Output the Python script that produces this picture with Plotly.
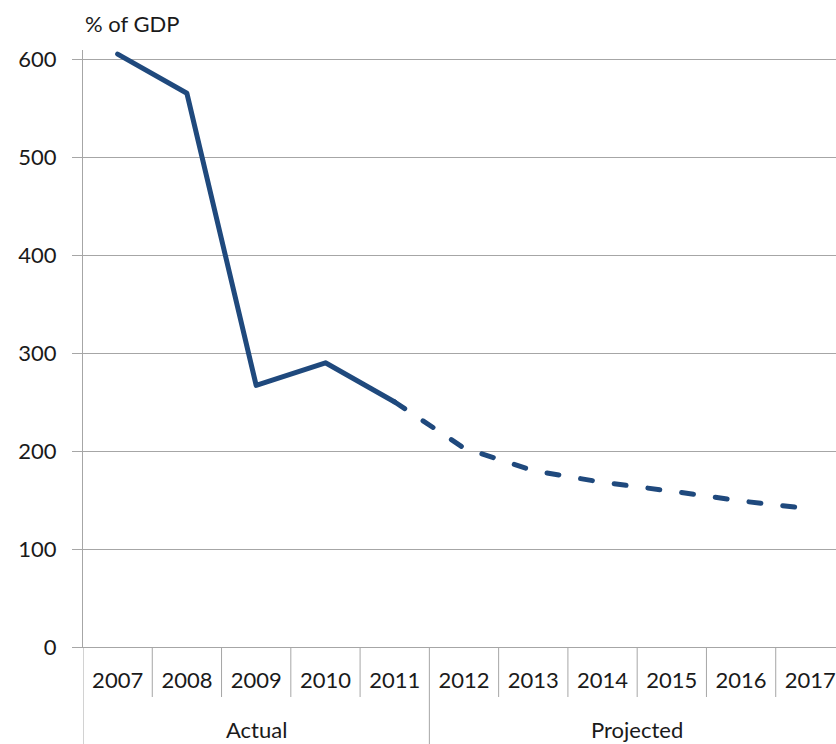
import plotly.graph_objects as go

years = ["2007", "2008", "2009", "2010", "2011", "2012", "2013", "2014", "2015", "2016", "2017"]
values = [605, 565, 267, 290, 250, 203, 180, 168, 159, 149, 141]
n_actual = 5  # 2007-2011 actual
group_labels = ["Actual", "Projected"]
y_ticks = [0, 100, 200, 300, 400, 500, 600]

LINE = "#1F497D"
GRID = "#A6A6A6"
TXT = "#1a1a1a"
FONT = "Lato"

fig = go.Figure()
fig.add_trace(go.Scatter(x=years[:n_actual], y=values[:n_actual], mode="lines",
                         line=dict(color=LINE, width=5), hoverinfo="skip", showlegend=False))
fig.add_trace(go.Scatter(x=years[n_actual - 1:], y=values[n_actual - 1:], mode="lines",
                         line=dict(color=LINE, width=5, dash="12px,22px"), hoverinfo="skip", showlegend=False))

plot_h = 744 - 50 - 97
def py(pix):
    return -(pix - 647) / plot_h

shapes = []
# inner category separators
for i in range(len(years) - 1):
    xpos = i + 0.5
    bottom = 744 if i == n_actual - 1 else 697
    shapes.append(dict(type="line", xref="x", yref="paper", x0=xpos, x1=xpos,
                       y0=0, y1=py(bottom), line=dict(color=GRID, width=1)))
# left axis extension
shapes.append(dict(type="line", xref="x", yref="paper", x0=-0.5, x1=-0.5,
                   y0=0, y1=py(744), line=dict(color=GRID, width=1)))

annotations = [
    dict(text="% of GDP", xref="paper", yref="paper", x=0, y=1 + (50 - 24) / plot_h,
         xanchor="left", yanchor="middle", showarrow=False, font=dict(size=22, color=TXT, family=FONT)),
    dict(text=group_labels[0], xref="x", yref="paper", x=(n_actual - 1) / 2, y=py(729),
         xanchor="center", yanchor="middle", showarrow=False, font=dict(size=22, color=TXT, family=FONT)),
    dict(text=group_labels[1], xref="x", yref="paper", x=(n_actual - 0.5 + len(years) - 0.5) / 2, y=py(729),
         xanchor="center", yanchor="middle", showarrow=False, font=dict(size=22, color=TXT, family=FONT)),
]

fig.update_layout(
    width=836, height=744,
    margin=dict(l=83, r=0, t=50, b=97),
    paper_bgcolor="white", plot_bgcolor="white",
    font=dict(family=FONT, size=22, color=TXT),
    shapes=shapes, annotations=annotations,
    xaxis=dict(type="category", range=[-0.5, -0.5 + (836 - 82.7) / 69.3],
               showgrid=False, showline=True, linecolor=GRID, linewidth=1,
               ticks="", ticklabelstandoff=14, tickfont=dict(size=22, color=TXT, family=FONT),
               fixedrange=True),
    yaxis=dict(range=[0, 600 * (647 - 50) / (647 - 59)], tickvals=y_ticks,
               showgrid=True, gridcolor=GRID, gridwidth=1, zeroline=False,
               showline=True, linecolor=GRID, linewidth=1,
               ticks="outside", ticklen=10, tickcolor=GRID, ticklabelstandoff=11,
               tickfont=dict(size=22, color=TXT, family=FONT), fixedrange=True),
)

post = (
    "document.body.style.margin='0';document.body.style.padding='0';"
    "document.body.style.overflow='hidden';"
    "document.querySelectorAll('.scatterlayer path.js-line').forEach(function(p){"
    "p.style.strokeLinecap='round';p.style.strokeLinejoin='round';});"
)
fig.write_html("out.html", config={"displayModeBar": False, "staticPlot": True}, post_script=post)
